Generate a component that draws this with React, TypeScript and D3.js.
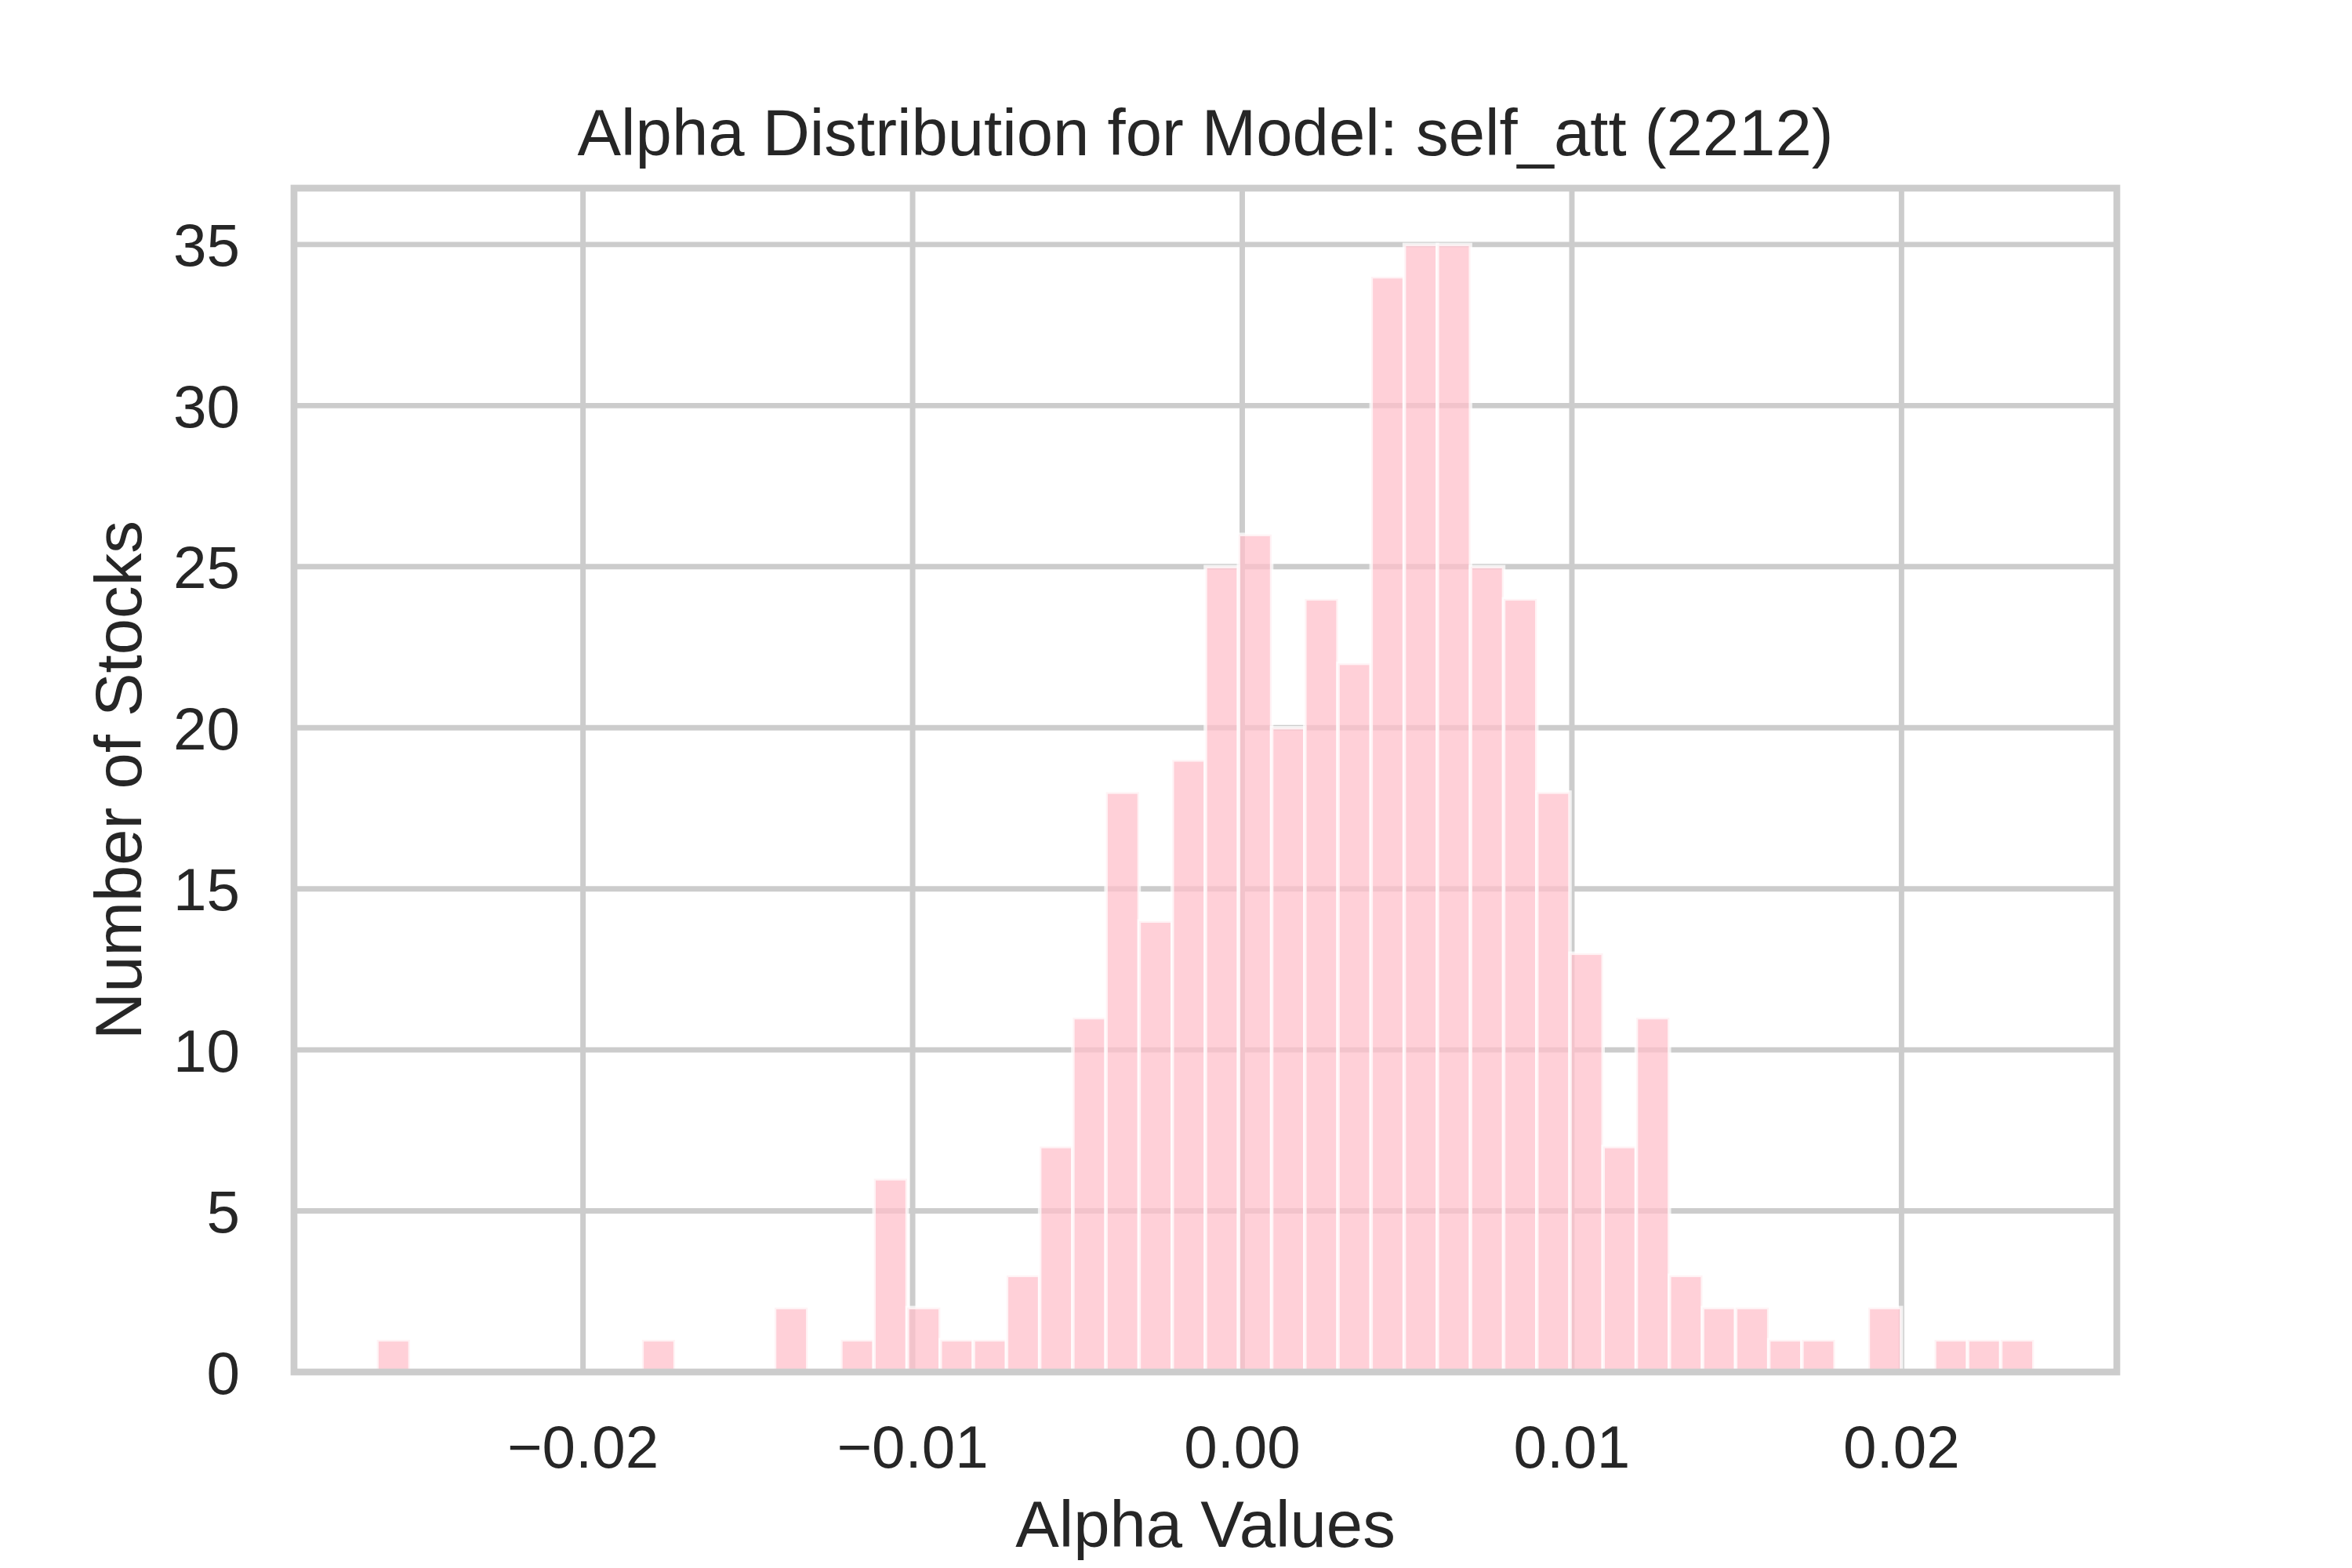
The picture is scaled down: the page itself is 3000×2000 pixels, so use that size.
import React from "react";
import * as d3 from "d3";

// ---- data ----
const alphaMin = -0.026254;
const alphaMax = 0.024018;
const binCount = 50;
const counts = [
  1, 0, 0, 0, 0, 0, 0, 0, 1, 0, 0, 0, 2, 0, 1, 6, 2, 1, 1, 3, 7, 11, 18, 14, 19,
  25, 26, 20, 24, 22, 34, 35, 35, 25, 24, 18, 13, 7, 11, 3, 2, 2, 1, 1, 0, 2, 0, 1, 1, 1,
];
const xTicks = [-0.02, -0.01, 0.0, 0.01, 0.02];
const xTickLabels = ["\u22120.02", "\u22120.01", "0.00", "0.01", "0.02"];
const yTicks = [0, 5, 10, 15, 20, 25, 30, 35];
const yTickLabels = ["0", "5", "10", "15", "20", "25", "30", "35"];
const titleText = "Alpha Distribution for Model: self_att (2212)";
const xLabelText = "Alpha Values";
const yLabelText = "Number of Stocks";

const W = 3000;
const H = 2000;
const left = 375;
const right = 2700;
const top = 240;
const bottom = 1750;

const FONT = "'Liberation Sans', Arial, Helvetica, sans-serif";
const TEXT = "#262626";
const GRID = "#cccccc";

export default function App() {
  const span = alphaMax - alphaMin;
  const margin = span * 0.05;
  const x = d3.scaleLinear().domain([alphaMin - margin, alphaMax + margin]).range([left, right]);
  const yMax = d3.max(counts)! * 1.05;
  const y = d3.scaleLinear().domain([0, yMax]).range([bottom, top]);
  const binW = span / binCount;
  const bins = counts.map((c, i) => ({ x0: alphaMin + i * binW, x1: alphaMin + (i + 1) * binW, c }));

  return (
    <svg
      width={W}
      height={H}
      viewBox={`0 0 ${W} ${H}`}
      style={{ position: "absolute", left: 0, top: 0, background: "#fff" }}
    >
      <rect x={0} y={0} width={W} height={H} fill="#fff" />
      {/* grid */}
      <g stroke={GRID} strokeWidth={6.94}>
        {xTicks.map((t) => (
          <line key={"gx" + t} x1={x(t)} x2={x(t)} y1={top} y2={bottom} />
        ))}
        {yTicks.map((t) => (
          <line key={"gy" + t} x1={left} x2={right} y1={y(t)} y2={y(t)} />
        ))}
      </g>
      {/* bars */}
      <g>
        {bins
          .filter((b) => b.c > 0)
          .map((b, i) => (
            <rect
              key={i}
              x={x(b.x0)}
              y={y(b.c)}
              width={x(b.x1) - x(b.x0)}
              height={y(0) - y(b.c)}
              fill="rgb(255,192,203)"
              fillOpacity={0.75}
              stroke="#ffffff"
              strokeOpacity={0.75}
              strokeWidth={4.5}
            />
          ))}
      </g>
      {/* spines */}
      <rect
        x={left}
        y={top}
        width={right - left}
        height={bottom - top}
        fill="none"
        stroke={GRID}
        strokeWidth={8.68}
      />
      {/* x tick labels */}
      <g fontFamily={FONT} fontSize={76.4} fill={TEXT} textAnchor="middle">
        {xTicks.map((t, i) => (
          <text key={"xt" + t} x={x(t)} y={1872}>
            {xTickLabels[i]}
          </text>
        ))}
      </g>
      {/* y tick labels */}
      <g fontFamily={FONT} fontSize={76.4} fill={TEXT} textAnchor="end">
        {yTicks.map((t, i) => (
          <text key={"yt" + t} x={306} y={y(t) + 27.5}>
            {yTickLabels[i]}
          </text>
        ))}
      </g>
      {/* labels */}
      <text
        x={(left + right) / 2}
        y={1973}
        fontFamily={FONT}
        fontSize={83.3}
        fill={TEXT}
        textAnchor="middle"
      >
        {xLabelText}
      </text>
      <text
        transform={`translate(180, ${(top + bottom) / 2}) rotate(-90)`}
        fontFamily={FONT}
        fontSize={83.3}
        fill={TEXT}
        textAnchor="middle"
      >
        {yLabelText}
      </text>
      <text
        x={(left + right) / 2}
        y={198}
        fontFamily={FONT}
        fontSize={83.3}
        fill={TEXT}
        textAnchor="middle"
      >
        {titleText}
      </text>
    </svg>
  );
}
